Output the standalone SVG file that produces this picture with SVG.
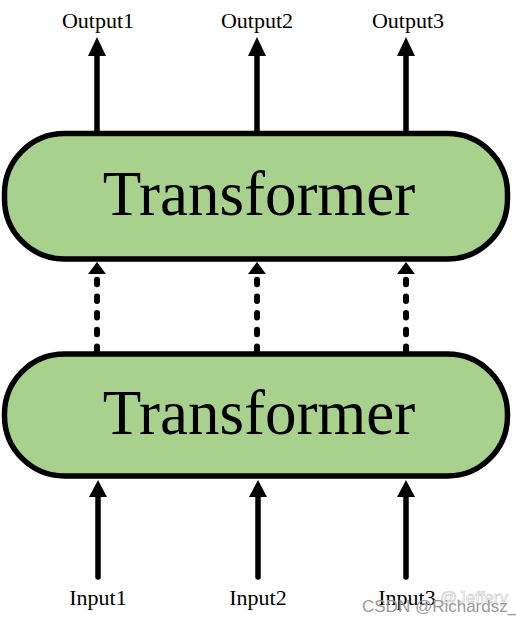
<svg xmlns="http://www.w3.org/2000/svg" width="516" height="623" viewBox="0 0 516 623">
  <style>
    .box { fill: #A9D18E; stroke: #000; stroke-width: 5.5; }
    .big { font-family: "Liberation Serif", "Times New Roman", serif; font-size: 63px; fill: #000; text-anchor: middle; }
    .lbl { font-family: "Liberation Serif", "Times New Roman", serif; font-size: 22px; fill: #000; text-anchor: middle; }
    .shaft { stroke: #000; stroke-width: 5.5; fill: none; }
    .dash { stroke: #000; stroke-width: 6; fill: none; stroke-linecap: round; stroke-dasharray: 4.5 12.2; }
    .wm { font-family: "Liberation Sans", Arial, sans-serif; font-size: 17px; fill: #9a9a9a; }
    .wm2 { font-family: "Liberation Sans", Arial, sans-serif; font-size: 17px; fill: none; stroke: #c8c8c8; stroke-width: 0.6; }
  </style>
  <defs>
    <marker id="head" markerUnits="userSpaceOnUse" markerWidth="20" markerHeight="20" refX="0" refY="9" orient="auto" viewBox="0 0 20 18">
      <path d="M0,0 L19,9 L0,18 Z" fill="#000"/>
    </marker>
  </defs>

  <g id="connectors">
    <!-- outputs -->
    <line class="shaft" x1="97" y1="132" x2="97" y2="56" marker-end="url(#head)"/>
    <line class="shaft" x1="257" y1="132" x2="257" y2="56" marker-end="url(#head)"/>
    <line class="shaft" x1="406" y1="132" x2="406" y2="56" marker-end="url(#head)"/>
    <!-- dashed middle -->
    <line class="dash" x1="97" y1="351" x2="97" y2="277"/>
    <line class="dash" x1="257" y1="351" x2="257" y2="277"/>
    <line class="dash" x1="406" y1="351" x2="406" y2="277"/>
    <path d="M88,274 L97,262 L106,274 Z" fill="#000"/>
    <path d="M248,274 L257,262 L266,274 Z" fill="#000"/>
    <path d="M397,274 L406,262 L415,274 Z" fill="#000"/>
    <!-- inputs -->
    <line class="shaft" x1="98" y1="577" x2="98" y2="495" stroke-linecap="round"/>
    <line class="shaft" x1="258" y1="577" x2="258" y2="495" stroke-linecap="round"/>
    <line class="shaft" x1="406" y1="577" x2="406" y2="495" stroke-linecap="round"/>
    <path d="M89,497 L98,480 L107,497 Z" fill="#000"/>
    <path d="M249,497 L258,480 L267,497 Z" fill="#000"/>
    <path d="M397,497 L406,480 L415,497 Z" fill="#000"/>
  </g>

  <g id="transformer-top">
    <rect class="box" x="4.5" y="133.5" width="503" height="125.5" rx="60" ry="60"/>
    <text class="big" x="259" y="215">Transformer</text>
  </g>

  <g id="transformer-bottom">
    <rect class="box" x="4.5" y="354" width="503" height="122" rx="60" ry="60"/>
    <text class="big" x="259" y="434">Transformer</text>
  </g>

  <g id="outputs">
    <text class="lbl" x="98" y="28">Output1</text>
    <text class="lbl" x="257" y="28">Output2</text>
    <text class="lbl" x="408" y="28">Output3</text>
  </g>

  <g id="inputs">
    <text class="lbl" x="98" y="605">Input1</text>
    <text class="lbl" x="258" y="605">Input2</text>
    <text class="lbl" x="407" y="605">Input3</text>
  </g>

  <g id="watermark">
    <text class="wm2" x="440" y="603">@Jeffery</text>
    <text class="wm" x="362" y="612">CSDN @Richardsz_</text>
  </g>
</svg>
